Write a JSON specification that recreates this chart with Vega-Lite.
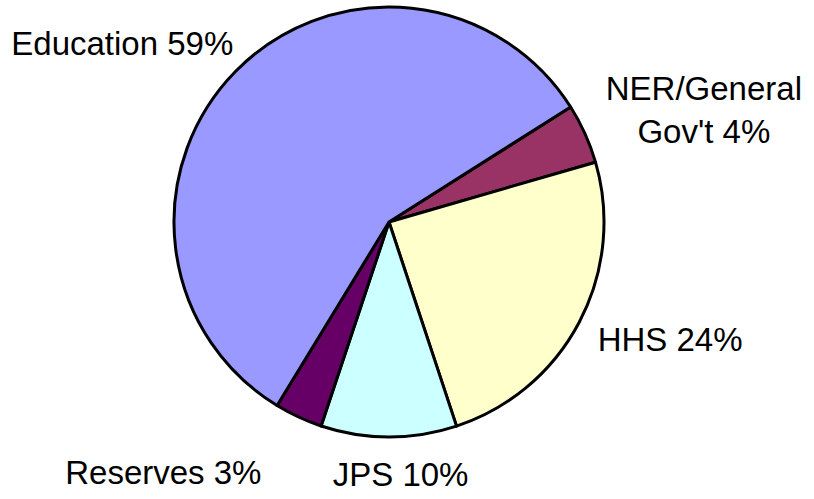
{
  "$schema": "https://vega.github.io/schema/vega-lite/v6.json",
  "width": 778,
  "height": 444,
  "autosize": {"type": "none"},
  "padding": {"left": 0, "top": 0, "right": 36, "bottom": 55},
  "background": "white",
  "config": {"view": {"stroke": null}},
  "data": {
    "values": [
      {"category": "NER/General Gov't", "share": 4.5, "seq": 1, "label": "NER/General\nGov't 4%"},
      {"category": "HHS", "share": 24.4, "seq": 2, "label": "HHS 24%"},
      {"category": "JPS", "share": 10.2, "seq": 3, "label": "JPS 10%"},
      {"category": "Reserves", "share": 3.6, "seq": 4, "label": "Reserves 3%"},
      {"category": "Education", "share": 57.3, "seq": 5, "label": "Education 59%"}
    ]
  },
  "encoding": {
    "theta": {"field": "share", "type": "quantitative", "stack": true, "scale": {"range": [1.0062, 7.2894]}},
    "order": {"field": "seq", "type": "quantitative"}
  },
  "layer": [
    {
      "mark": {"type": "arc", "outerRadius": 215, "stroke": "black", "strokeWidth": 3, "strokeJoin": "round"},
      "encoding": {
        "color": {
          "field": "category",
          "type": "nominal",
          "legend": null,
          "scale": {
            "domain": ["NER/General Gov't", "HHS", "JPS", "Reserves", "Education"],
            "range": ["#993366", "#FFFFCC", "#CCFFFF", "#660066", "#9999FF"]
          }
        }
      }
    },
    {
      "mark": {"type": "text", "radius": 314.9, "thetaOffset": -0.2164, "font": "Liberation Sans", "fontSize": 33, "align": "center", "baseline": "alphabetic", "color": "black"},
      "encoding": {"text": {"condition": {"test": "datum.category === 'Education'", "field": "label"}, "value": ""}}
    },
    {
      "mark": {"type": "text", "radius": 337.8, "thetaOffset": 0.0524, "font": "Liberation Sans", "fontSize": 33, "align": "center", "baseline": "alphabetic", "lineBreak": "\n", "lineHeight": 43, "color": "black"},
      "encoding": {"text": {"condition": {"test": "datum.category === \"NER/General Gov't\"", "field": "label"}, "value": ""}}
    },
    {
      "mark": {"type": "text", "radius": 309.2, "thetaOffset": -0.055, "font": "Liberation Sans", "fontSize": 33, "align": "center", "baseline": "alphabetic", "color": "black"},
      "encoding": {"text": {"condition": {"test": "datum.category === 'HHS'", "field": "label"}, "value": ""}}
    },
    {
      "mark": {"type": "text", "radius": 264.3, "thetaOffset": -0.0447, "font": "Liberation Sans", "fontSize": 33, "align": "center", "baseline": "alphabetic", "color": "black"},
      "encoding": {"text": {"condition": {"test": "datum.category === 'JPS'", "field": "label"}, "value": ""}}
    },
    {
      "mark": {"type": "text", "radius": 346.1, "thetaOffset": 0.2758, "font": "Liberation Sans", "fontSize": 33, "align": "center", "baseline": "alphabetic", "color": "black"},
      "encoding": {"text": {"condition": {"test": "datum.category === 'Reserves'", "field": "label"}, "value": ""}}
    }
  ]
}
